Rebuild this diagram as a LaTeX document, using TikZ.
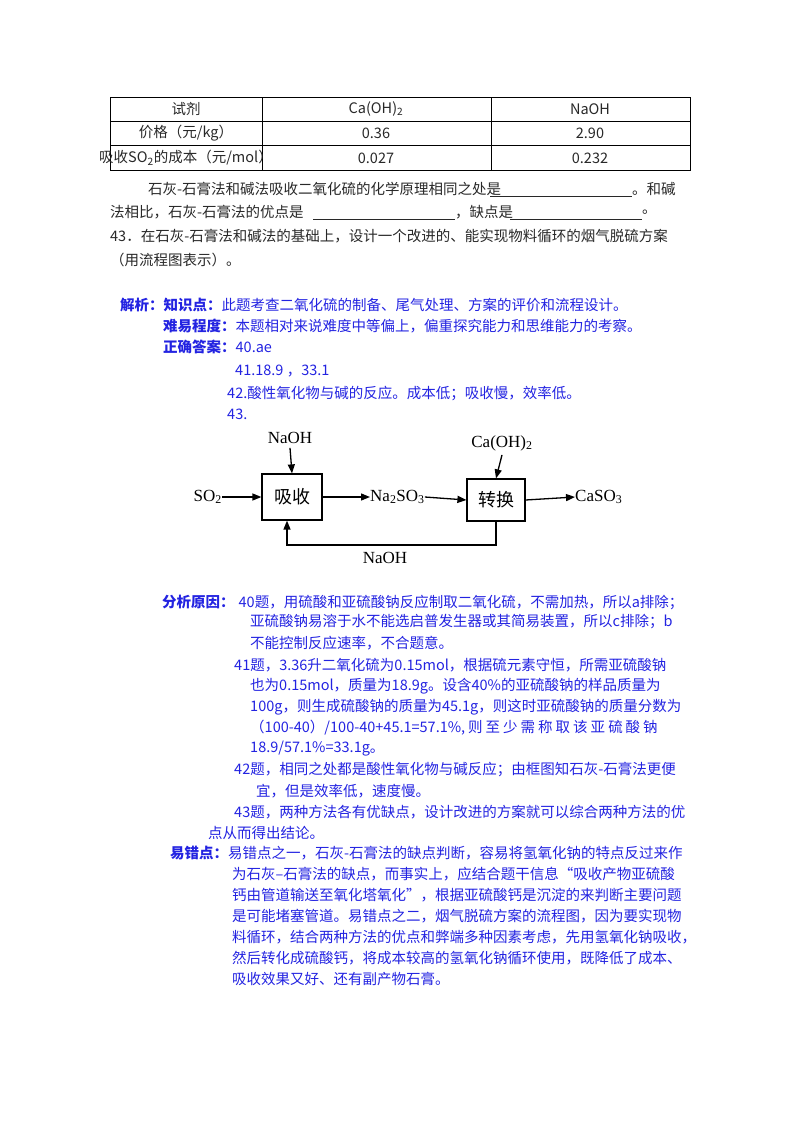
\documentclass[tikz,border=0pt]{standalone}
\usepackage{fontspec}
\setmainfont{Noto Sans CJK SC}
\newfontfamily\tnr{Liberation Serif}
\usetikzlibrary{arrows.meta}
\definecolor{bl}{RGB}{35,35,225}
\definecolor{tx}{RGB}{40,40,40}
\begin{document}
\begin{tikzpicture}[x=1pt,y=-1pt,
  t/.style={anchor=west,inner sep=0pt,font=\fontsize{14.5}{16}\selectfont,text=tx},
  b/.style={anchor=west,inner sep=0pt,font=\fontsize{14.5}{16}\selectfont,text=bl},
  c/.style={inner sep=0pt,font=\fontsize{14.5}{16}\selectfont,text=tx},
  f/.style={inner sep=0pt,font=\tnr\fontsize{17}{18}\selectfont},
  bx/.style={draw,line width=1.2pt,minimum width=60pt,minimum height=46pt,font=\fontsize{18}{20}\selectfont},
  ar/.style={line width=1.3pt,-{Triangle[length=9pt,width=7pt]}}]
\useasboundingbox (0,0) rectangle (800,1132);
% table
\draw[line width=0.8pt] (110,97) rectangle (690,170);
\draw[line width=0.6pt] (110,121) -- (690,121) (110,145) -- (690,145) (262,97) -- (262,170) (491,97) -- (491,170);
\node[c] (h1) at (186,109) {试剂};
\node[c] (h2) at (376,109) {Ca(OH)\textsubscript{2}};
\node[c] (h3) at (590,109) {NaOH};
\node[c] (r1) at (186,133) {价格（元/kg）};
\node[c] (r2) at (376,133) {0.36};
\node[c] (r3) at (590,133) {2.90};
\node[c] (s1) at (186,158) {吸收SO\textsubscript{2}的成本（元/mol）};
\node[c] (s2) at (376,158) {0.027};
\node[c] (s3) at (590,158) {0.232};
% question text
\node[t] (q1) at (148,189) {石灰-石膏法和碱法吸收二氧化硫的化学原理相同之处是};
\draw[tx,line width=0.5pt] (490,196) -- (632,196);
\node[t] (q1b) at (632,189) {。和碱};
\node[t] (q2) at (110,212) {法相比，石灰-石膏法的优点是};
\draw[tx,line width=0.5pt] (313,219) -- (455,219);
\node[t] (q2b) at (455,212) {，缺点是};
\draw[tx,line width=0.5pt] (510,219) -- (642,219);
\node[t] (q2c) at (642,212) {。};
\node[t] (q3) at (110,236) {43．在石灰-石膏法和碱法的基础上，设计一个改进的、能实现物料循环的烟气脱硫方案};
\node[t] (q4) at (110,260) {（用流程图表示）。};
% analysis
\node[b] (a1) at (120,305) {\bfseries 解析：知识点：\mdseries 此题考查二氧化硫的制备、尾气处理、方案的评价和流程设计。};
\node[b] (a2) at (163,326) {\bfseries 难易程度：\mdseries 本题相对来说难度中等偏上，偏重探究能力和思维能力的考察。};
\node[b] (a3) at (163,347) {\bfseries 正确答案：\mdseries 40.ae};
\node[b] (a4) at (235,371) {41.18.9 ，33.1};
\node[b] (a5) at (227,394) {42.酸性氧化物与碱的反应。成本低；吸收慢，效率低。};
\node[b] (a6) at (227,414) {43.};
% flowchart
\node[bx] (abs) at (292,497) {吸收};
\node[bx,minimum width=58pt,minimum height=42pt] (cnv) at (496,500) {转换};
\node[f,anchor=east] (so2) at (222,497) {SO\textsubscript{2}};
\node[f] (naoh1) at (290,438) {NaOH};
\node[f,anchor=west] (na2) at (370,497) {Na\textsubscript{2}SO\textsubscript{3}};
\node[f] (caoh) at (502,443) {Ca(OH)\textsubscript{2}};
\node[f,anchor=west] (caso3) at (575,497) {CaSO\textsubscript{3}};
\node[f] (naoh2) at (385,558) {NaOH};
\draw[ar] (so2.east) -- (abs.west);
\draw[ar] (naoh1.south) ++(0,4) -- (abs.north);
\draw[ar] (abs.east) -- (na2.west);
\draw[ar] (na2.east) -- (cnv.west);
\draw[ar] (caoh.south) ++(0,4) -- (cnv.north);
\draw[ar] (cnv.east) -- (caso3.west);
\coordinate (c1) at (496,545);
\coordinate (c2) at (287,545);
\draw[ar] (cnv.south) -- (c1) -- (c2) -- (abs.south -| c2);
% reasons
\node[b] (r40) at (162,602) {\bfseries 分析原因：\mdseries\hspace{4pt}40题，用硫酸和亚硫酸钠反应制取二氧化硫，不需加热，所以a排除；};
\node[b] (r40b) at (250,622) {亚硫酸钠易溶于水不能选启普发生器或其简易装置，所以c排除；b};
\node[b] (r40c) at (250,643) {不能控制反应速率，不合题意。};
\node[b] (r41) at (234,665) {41题，3.36升二氧化硫为0.15mol，根据硫元素守恒，所需亚硫酸钠};
\node[b] (r41b) at (250,686) {也为0.15mol，质量为18.9g。设含40\%的亚硫酸钠的样品质量为};
\node[b] (r41c) at (250,707) {100g，则生成硫酸钠的质量为45.1g，则这时亚硫酸钠的质量分数为};
\node[b] (r41d) at (250,728) {（100-40）/100-40+45.1=57.1\%,\hspace{3pt}则\hspace{3pt}至\hspace{3pt}少\hspace{3pt}需\hspace{3pt}称\hspace{3pt}取\hspace{3pt}该\hspace{3pt}亚\hspace{3pt}硫\hspace{3pt}酸\hspace{3pt}钠};
\node[b] (r41e) at (250,749) {18.9/57.1\%=33.1g。};
\node[b] (r42) at (234,770) {42题，相同之处都是酸性氧化物与碱反应；由框图知石灰-石膏法更便};
\node[b] (r42b) at (256,791) {宜，但是效率低，速度慢。};
\node[b] (r43) at (234,812) {43题，两种方法各有优缺点，设计改进的方案就可以综合两种方法的优};
\node[b] (r43b) at (208,833) {点从而得出结论。};
% errors
\node[b] (e1) at (170,853) {\bfseries 易错点：\mdseries 易错点之一，石灰-石膏法的缺点判断，容易将氢氧化钠的特点反过来作};
\node[b] (e2) at (232,874) {为石灰--石膏法的缺点，而事实上，应结合题干信息“吸收产物亚硫酸};
\node[b] (e3) at (232,895) {钙由管道输送至氧化塔氧化”，根据亚硫酸钙是沉淀的来判断主要问题};
\node[b] (e4) at (232,916) {是可能堵塞管道。易错点之二，烟气脱硫方案的流程图，因为要实现物};
\node[b] (e5) at (232,937) {料循环，结合两种方法的优点和弊端多种因素考虑，先用氢氧化钠吸收，};
\node[b] (e6) at (232,958) {然后转化成硫酸钙，将成本较高的氢氧化钠循环使用，既降低了成本、};
\node[b] (e7) at (232,979) {吸收效果又好、还有副产物石膏。};
\end{tikzpicture}
\end{document}
